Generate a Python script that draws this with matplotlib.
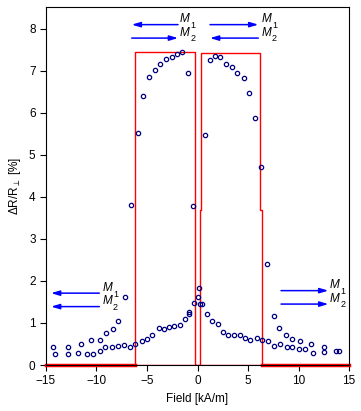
import numpy as np
import matplotlib.pyplot as plt

plt.rcParams['font.family'] = ['Liberation Sans', 'DejaVu Sans']
plt.rcParams['mathtext.fontset'] = 'custom'
plt.rcParams['mathtext.rm'] = 'Liberation Sans'
plt.rcParams['mathtext.it'] = 'Liberation Sans:italic'

# measured points, sweep -15 -> +15
inc_field = [-14.11, -12.82, -11.83, -10.94, -10.35, -9.65, -9.16, -8.47, -7.87, -7.28,
             -6.68, -6.19, -5.49, -5.00, -4.50, -3.81, -3.32, -2.82, -2.33, -1.73,
             -1.24, -0.84, -0.35, 0.02, 0.74, 1.24, 1.73, 2.23, 2.82, 3.42,
             3.91, 4.60, 5.10, 5.69, 6.29, 6.91, 7.57, 8.04, 8.73, 9.36,
             10.15, 11.20, 12.52, 13.68]
inc_dr = [0.26, 0.26, 0.29, 0.26, 0.26, 0.34, 0.44, 0.44, 0.46, 0.48,
          0.44, 0.51, 0.56, 0.63, 0.72, 0.89, 0.86, 0.91, 0.94, 0.96,
          1.10, 1.25, 1.48, 1.61, 5.48, 7.25, 7.36, 7.34, 7.17, 7.08,
          6.96, 6.82, 6.48, 5.89, 4.72, 2.41, 1.17, 0.89, 0.72, 0.63,
          0.58, 0.51, 0.42, 0.34]

# measured points, sweep +15 -> -15
dec_field = [14.01, 12.52, 11.44, 10.61, 10.02, 9.36, 8.83, 8.17, 7.57, 6.98,
             6.39, 5.86, 5.17, 4.67, 4.18, 3.61, 2.99, 2.52, 2.00, 1.44,
             0.94, 0.48, 0.28, 0.12, -0.48, -0.94, -1.57, -2.06, -2.55, -3.15,
             -3.71, -4.24, -4.80, -5.40, -5.89, -6.61, -7.21, -7.87, -8.37, -9.06,
             -9.65, -10.54, -11.53, -12.82, -14.34, -0.84]
dec_dr = [0.34, 0.32, 0.29, 0.39, 0.39, 0.44, 0.44, 0.51, 0.46, 0.56,
          0.60, 0.65, 0.60, 0.65, 0.72, 0.72, 0.72, 0.79, 0.97, 1.05,
          1.22, 1.44, 1.46, 1.84, 3.79, 6.96, 7.44, 7.40, 7.34, 7.29,
          7.17, 7.02, 6.86, 6.40, 5.53, 3.81, 1.62, 1.04, 0.86, 0.77,
          0.60, 0.60, 0.50, 0.44, 0.42, 1.22]

# model curves (red)
model_inc_x = [-15, 0.25, 0.25, 0.38, 0.38, 6.22, 6.22, 6.35, 6.35, 15]
model_inc_y = [0, 0, 3.7, 3.7, 7.42, 7.42, 3.7, 3.7, 0, 0]
model_dec_x = [15, -0.22, -0.22, -6.16, -6.16, -15]
model_dec_y = [0, 0, 7.44, 7.44, 0, 0]

# magnetisation arrows: (x_tail, x_head, y, label, subscript, label_x)
arrows = [
    (-1.93, -6.51, 8.10, 'M', '1', -1.73),
    (-6.51, -1.93, 7.78, 'M', '2', -1.73),
    (1.24, 6.02, 8.10, 'M', '1', 6.36),
    (6.02, 1.24, 7.78, 'M', '2', 6.36),
    (-9.72, -14.5, 1.71, 'M', '1', -9.39),
    (-9.72, -14.5, 1.39, 'M', '2', -9.39),
    (8.27, 12.95, 1.77, 'M', '1', 13.12),
    (8.27, 12.95, 1.45, 'M', '2', 13.12),
]

fig = plt.figure(figsize=(3.61, 4.11), dpi=100)
ax = fig.add_axes([0.1274, 0.1119, 0.8394, 0.8711])

ax.plot(model_inc_x, model_inc_y, color='red', lw=1.0)
ax.plot(model_dec_x, model_dec_y, color='red', lw=1.0)
# both model curves at zero -> thicker baseline
ax.plot([-15, -6.16], [0, 0], color='red', lw=2.5, clip_on=False)
ax.plot([6.35, 15], [0, 0], color='red', lw=2.5, clip_on=False)

ax.plot(inc_field, inc_dr, 'o', mfc='none', mec='#000080', ms=3.1, mew=0.9)
ax.plot(dec_field, dec_dr, 'o', mfc='none', mec='#000080', ms=3.1, mew=0.9)

for x0, x1, y, lab, sub, xl in arrows:
    ax.annotate('', xy=(x1, y), xytext=(x0, y),
                arrowprops=dict(arrowstyle='-|>,head_length=0.5,head_width=0.15',
                                color='#0000ff', lw=1.1, shrinkA=0, shrinkB=0))
    ax.text(xl, y + 0.06, lab, fontsize=8.5, style='italic', va='baseline', ha='left')
    ax.text(xl + 1.02, y - 0.08, sub, fontsize=6.5, va='baseline', ha='left')

ax.set_xlim(-15, 15)
ax.set_ylim(0, 8.52)
ax.set_xticks([-15, -10, -5, 0, 5, 10, 15])
ax.set_yticks(range(9))
ax.tick_params(direction='out', length=4, labelsize=8.5)
ax.tick_params(top=False, right=False)
ax.set_xlabel('Field [kA/m]', fontsize=8.5, labelpad=4)
ax.set_ylabel(r'$\Delta$R/R$_\perp$ [%]', fontsize=8.5, labelpad=4)

fig.savefig('out.png', dpi=100)
